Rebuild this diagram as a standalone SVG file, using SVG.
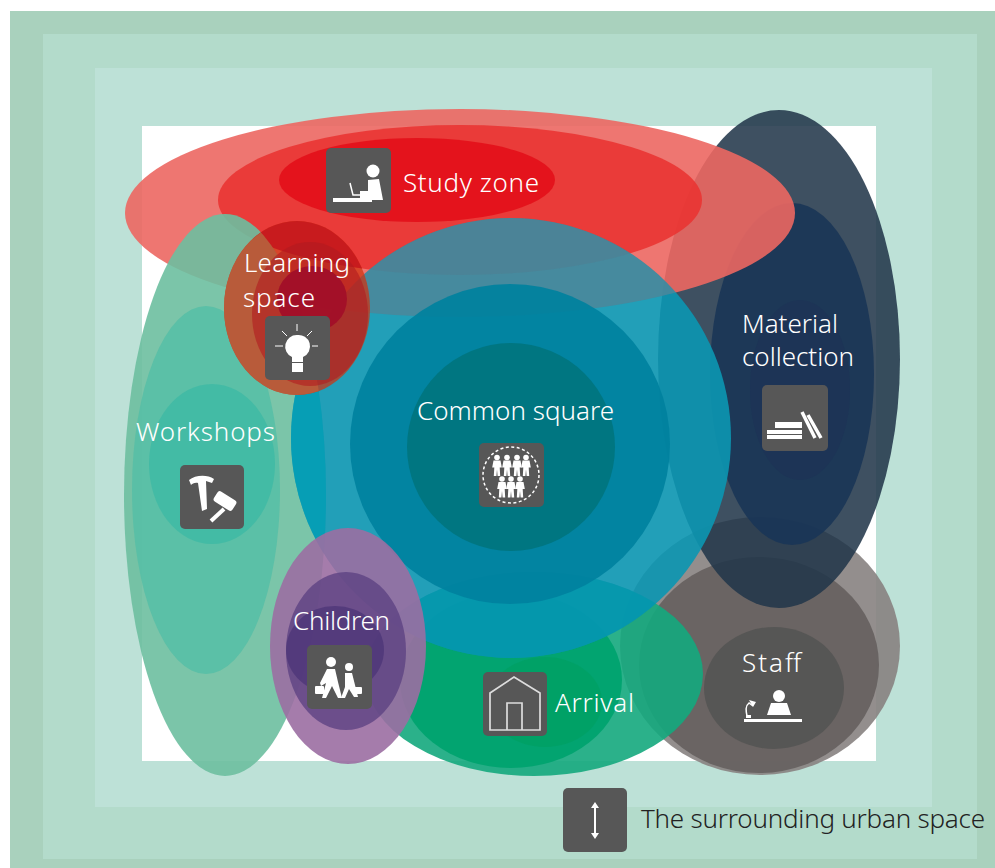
<svg xmlns="http://www.w3.org/2000/svg" width="995" height="868" viewBox="0 0 995 868">
<style>
.t{font-family:"Noto Sans","Open Sans","Liberation Sans",sans-serif;font-size:26px;font-weight:300;fill:#fff}
.d{fill:#222}
.b{fill:#575757}
.w{fill:#fff}
.l{stroke:#fff;fill:none}
</style>
<defs>
<g id="person"><circle cx="0" cy="-9" r="2.800" class="w"/><path class="w" d="M-3.500-6H3.500L4.800 1H2.700L3.200 9.500H.6L0 3-.6 9.500H-3.200L-2.700 1H-4.800Z"/></g>
<clipPath id="clipCommon"><circle cx="511" cy="438" r="220"/></clipPath>
<clipPath id="clipLearn"><ellipse cx="297" cy="308" rx="73" ry="87"/></clipPath>
</defs>
<rect x="10" y="11" width="985" height="857" fill="#a9d1bd"/>
<rect x="43" y="34" width="934" height="825" fill="#b3dbcb"/>
<rect x="95" y="68" width="837" height="739" fill="#bde1d7"/>
<rect x="142" y="126" width="734" height="635" fill="#fff"/>

<g id="staff">
<ellipse cx="760" cy="646" rx="140" ry="129" fill="#878281" fill-opacity=".9"/>
<ellipse cx="759" cy="665" rx="120" ry="108" fill="#676261" fill-opacity=".95"/>
<ellipse cx="774" cy="688" rx="70" ry="61" fill="#555554" fill-opacity=".95"/>
</g>
<g id="material">
<ellipse cx="779" cy="359" rx="121" ry="249" fill="#213649" fill-opacity=".87"/>
<ellipse cx="792" cy="374" rx="82" ry="171" fill="#1a3556" fill-opacity=".9"/>
<ellipse cx="800" cy="390" rx="50" ry="90" fill="#1f2a55" fill-opacity=".3"/>
</g>
<g id="study">
<ellipse cx="460" cy="213" rx="335" ry="104" fill="#ec6762" fill-opacity=".9"/>
<ellipse cx="460" cy="200" rx="242" ry="75" fill="#e93331" fill-opacity=".88"/>
<ellipse cx="417" cy="180" rx="138" ry="42" fill="#e30f1a" fill-opacity=".9"/>
</g>
<g id="arrival">
<ellipse cx="534" cy="674" rx="169" ry="102" fill="#14a87d" fill-opacity=".9"/>
<ellipse cx="511" cy="680" rx="111" ry="88" fill="#00a36f" fill-opacity=".95"/>
<ellipse cx="545" cy="702" rx="57" ry="45" fill="#00a062" fill-opacity=".7"/>
</g>
<g id="workshops">
<ellipse cx="225" cy="495" rx="101" ry="281" fill="#6dbfa0" fill-opacity=".9"/>
<ellipse cx="206" cy="490" rx="74" ry="184" fill="#58bfa6" fill-opacity=".9"/>
<ellipse cx="212" cy="464" rx="63" ry="80" fill="#3fbaa4" fill-opacity=".85"/>
</g>
<g id="common">
<circle cx="511" cy="438" r="220" fill="#0c96b1" fill-opacity=".91"/>
<g clip-path="url(#clipCommon)">
<ellipse cx="225" cy="495" rx="101" ry="281" fill="#00a0b8" fill-opacity=".7"/>
<ellipse cx="534" cy="674" rx="169" ry="102" fill="#0098ae" fill-opacity=".6"/>
<ellipse cx="460" cy="213" rx="335" ry="104" fill="#ec6566" fill-opacity=".18"/>
<ellipse cx="460" cy="200" rx="242" ry="75" fill="#ec6566" fill-opacity=".04"/>
</g>
<circle cx="510" cy="444" r="160" fill="#00819e" fill-opacity=".92"/>
<circle cx="511" cy="447" r="104" fill="#007580" fill-opacity=".95"/>
</g>
<g id="learning">
<ellipse cx="297" cy="308" rx="73" ry="87" fill="#d0320f" fill-opacity=".72"/>
<g clip-path="url(#clipLearn)">
<ellipse cx="460" cy="200" rx="242" ry="75" fill="#c5181f" fill-opacity=".85"/>
<ellipse cx="225" cy="495" rx="101" ry="281" fill="#b85b3a"/>
</g>
<ellipse cx="310" cy="314" rx="58" ry="72" fill="#b01a20" fill-opacity=".6"/>
<ellipse cx="312" cy="299" rx="35" ry="33" fill="#a20f28" fill-opacity=".97"/>
</g>
<g id="children">
<ellipse cx="348" cy="646" rx="78" ry="118" fill="#9b6ea2" fill-opacity=".9"/>
<ellipse cx="346" cy="651" rx="60" ry="79" fill="#5a3f80" fill-opacity=".75"/>
<ellipse cx="335" cy="650" rx="49" ry="44" fill="#442e73" fill-opacity=".6"/>
</g>

<g id="connectors"/>

<g id="study-label">
<g transform="translate(326 148)"><rect class="b" width="65" height="65" rx="5"/>
<circle class="w" cx="47" cy="23" r="6.500"/><path class="w" d="M42 32 53 31 57 52H34V43H42Z"/><path class="w" d="M7 50H46V54H7Z"/><path class="l" stroke-width="1.500" d="M24 35 27 47H46"/></g>
<text class="t" x="403" y="192" textLength="136">Study zone</text>
</g>
<g id="learning-label">
<text class="t" x="244" y="272" textLength="106">Learning</text>
<text class="t" x="243" y="307" textLength="72">space</text>
<g transform="translate(265 316)"><rect class="b" width="65" height="64" rx="5"/>
<path class="w" d="M32 19A11.500 11.500 0 0 1 38 41V46H27V41A11.500 11.500 0 0 1 32 19Z"/><rect class="w" x="27" y="47" width="11" height="9"/>
<path class="l" stroke-width="1" d="M32 8V15M10 30H18M47 30H53M17 15 22 20M47 15 42 20"/></g>
</g>
<g id="common-label">
<text class="t" x="417" y="420" textLength="197">Common square</text>
<g transform="translate(479 443)"><rect class="b" width="65" height="64" rx="5"/>
<circle cx="32" cy="32" r="28" fill="none" stroke="#fff" stroke-width="1.500" stroke-dasharray="3 2.500"/>
<use href="#person" x="18" y="23.500"/><use href="#person" x="28" y="23.500"/><use href="#person" x="38" y="23.500"/><use href="#person" x="47" y="23.500"/>
<use href="#person" x="23" y="45"/><use href="#person" x="32" y="45"/><use href="#person" x="41" y="45"/></g>
</g>
<g id="workshops-label">
<text class="t" x="136" y="441" textLength="139">Workshops</text>
<g transform="translate(180 465)"><rect class="b" width="64" height="64" rx="5"/>
<path class="w" d="M9 15C15 10 27 9 34 14L32 18 26 16 27 44 22 46 18 18C15 17 12 19 11 20Z"/>
<rect class="w" x="34" y="30" width="22" height="12" rx="3" transform="rotate(32 45 36)"/>
<path class="l" stroke-width="4" d="M44 44 31 56"/></g>
</g>
<g id="children-label">
<text class="t" x="293" y="630" textLength="97">Children</text>
<g transform="translate(307 645)"><rect class="b" width="65" height="64" rx="5"/>
<circle class="w" cx="24" cy="17" r="5"/><circle class="w" cx="42" cy="22" r="4"/>
<path class="w" d="M20 24H28L31 37 35 53H31L25 41 19 53H15L19 38 14 41 13 38Z"/>
<path class="w" d="M38 28H45L48 40 51 52H47L42 44 38 53H34L38 42Z"/>
<rect class="w" x="8" y="41" width="9" height="8" rx="1"/><rect class="w" x="47" y="42" width="8" height="7" rx="1"/></g>
</g>
<g id="arrival-label">
<g transform="translate(483 672)"><rect class="b" width="64" height="64" rx="5"/>
<path fill="none" stroke="#ddd" stroke-width="1.700" d="M7 58V21L31 5 57 21V58ZM24 58V31H39V58"/></g>
<text class="t" x="555" y="712" textLength="79">Arrival</text>
</g>
<g id="material-label">
<text class="t" x="742" y="333" textLength="96">Material</text>
<text class="t" x="742" y="366" textLength="112">collection</text>
<g transform="translate(762 385)"><rect class="b" width="66" height="66" rx="5"/>
<path class="w" d="M5 45H40V49H5ZM5 50H40V54H5ZM13 37H40V43H13Z"/>
<path class="l" stroke-width="3.500" d="M40 27 53 53M46 30 59 53"/></g>
</g>
<g id="staff-label">
<text class="t" x="742" y="672" textLength="59">Staff</text>
<path class="w" d="M744 719H802V722H744Z"/><circle class="w" cx="779" cy="696" r="6"/><path class="w" d="M767 715 771 703H787L791 715Z"/>
<path class="l" stroke-width="1.500" d="M747 716C746 711 745 706 749 703L753 706"/><path class="w" d="M749 700 756 702 753 707Z"/>
<path class="w" d="M746 715H751V718H746Z"/>
</g>
<g id="urban-label">
<g transform="translate(563 788)"><rect class="b" width="64" height="64" rx="5"/>
<path class="w" d="M32 14 36 20H33V45H36L32 51 28 45H31V20H28Z"/></g>
<text class="t d" x="641" y="828" textLength="344">The surrounding urban space</text>
</g>
</svg>
